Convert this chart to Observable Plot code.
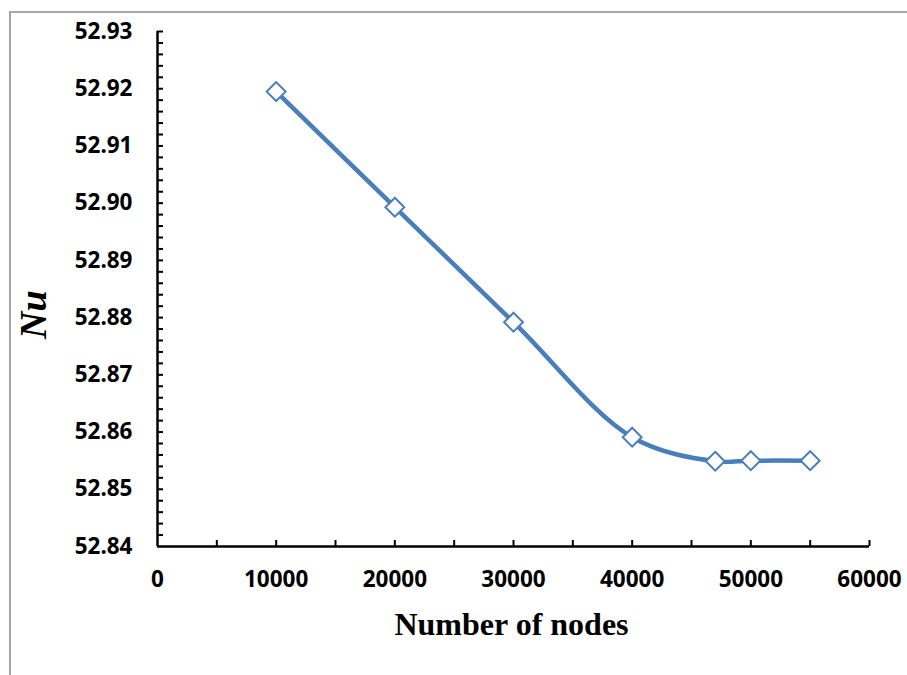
<!DOCTYPE html>
<html>
<head>
<meta charset="utf-8">
<script src="https://cdn.jsdelivr.net/npm/d3@7"></script>
<script src="https://cdn.jsdelivr.net/npm/@observablehq/plot@0.6"></script>
<style>
  html, body { margin: 0; padding: 0; background: #fff; }
  #wrap { position: relative; width: 907px; height: 675px; overflow: hidden; }
  #border { position: absolute; left: 9px; top: 11px; width: 910px; height: 670px;
            border-left: 2px solid #a6a6a6; border-top: 2px solid #a6a6a6; box-sizing: border-box; }
  #chart { position: absolute; left: 0; top: 0; }
  #chart text { font-weight: 700; }
</style>
</head>
<body>
<div id="wrap"><div id="border"></div><div id="chart"></div></div>
<script>
const nodes = [10000, 20000, 30000, 40000, 47000, 50000, 55000];
const nu = [52.9195, 52.8993, 52.8792, 52.8591, 52.8549, 52.8550, 52.8550];

const xTickLabels = [0, 10000, 20000, 30000, 40000, 50000, 60000];
const xMinorTicks = [5000, 10000, 15000, 20000, 25000, 30000, 35000, 40000, 45000, 50000, 55000, 60000];
const yTickLabels = [52.84, 52.85, 52.86, 52.87, 52.88, 52.89, 52.90, 52.91, 52.92, 52.93];
const yMinorTicks = [52.842, 52.844, 52.846, 52.848, 52.85, 52.852, 52.854, 52.856, 52.858, 52.86,
  52.862, 52.864, 52.866, 52.868, 52.87, 52.872, 52.874, 52.876, 52.878, 52.88,
  52.882, 52.884, 52.886, 52.888, 52.89, 52.892, 52.894, 52.896, 52.898, 52.90,
  52.902, 52.904, 52.906, 52.908, 52.91, 52.912, 52.914, 52.916, 52.918, 52.92,
  52.922, 52.924, 52.926, 52.928, 52.93];

const data = nodes.map((n, i) => ({n, nu: nu[i]}));
const blue = "#4a7ebb";
const labelFont = "'Noto Sans', sans-serif";

const chart = Plot.plot({
  width: 907,
  height: 675,
  marginLeft: 157,
  marginRight: 38,
  marginTop: 31,
  marginBottom: 129,
  style: {fontFamily: labelFont, fontWeight: "bold", background: "transparent"},
  x: {domain: [0, 60000]},
  y: {domain: [52.84, 52.93]},
  marks: [
    Plot.axisX({ticks: xMinorTicks, tickSize: -6, stroke: "#000", strokeWidth: 2, text: null, label: null}),
    Plot.axisX({ticks: xTickLabels, tickSize: 0, tickPadding: 25, fontSize: 22.5, fontWeight: "bold", fill: "#000", label: null, tickFormat: d => String(d)}),
    Plot.axisY({ticks: yMinorTicks, tickSize: -6, stroke: "#000", strokeWidth: 2, text: null, label: null}),
    Plot.axisY({ticks: yTickLabels, tickSize: 0, tickPadding: 25, fontSize: 22.5, fontWeight: "bold", fill: "#000", label: null, tickFormat: d => d.toFixed(2)}),
    Plot.ruleY([52.84], {stroke: "#000", strokeWidth: 2.5}),
    Plot.ruleX([0], {stroke: "#000", strokeWidth: 2.5}),
    Plot.line(data, {x: "n", y: "nu", stroke: blue, strokeWidth: 4.5, curve: "catmull-rom"}),
    Plot.dot(data, {x: "n", y: "nu", symbol: "diamond2", r: 8.5, fill: "#fff", stroke: blue, strokeWidth: 2}),
    Plot.text(["Number of nodes"], {frameAnchor: "bottom", dy: 88, dx: -2, fontSize: 32,
      fontFamily: "'Liberation Serif', serif", fontWeight: "bold", fill: "#000"}),
    Plot.text(["Nu"], {frameAnchor: "left", dx: -124, dy: 50, rotate: -90, fontSize: 38,
      fontFamily: "'Liberation Serif', serif", fontWeight: "bold", fontStyle: "italic", fill: "#000"})
  ]
});
document.getElementById("chart").appendChild(chart);
</script>
</body>
</html>
